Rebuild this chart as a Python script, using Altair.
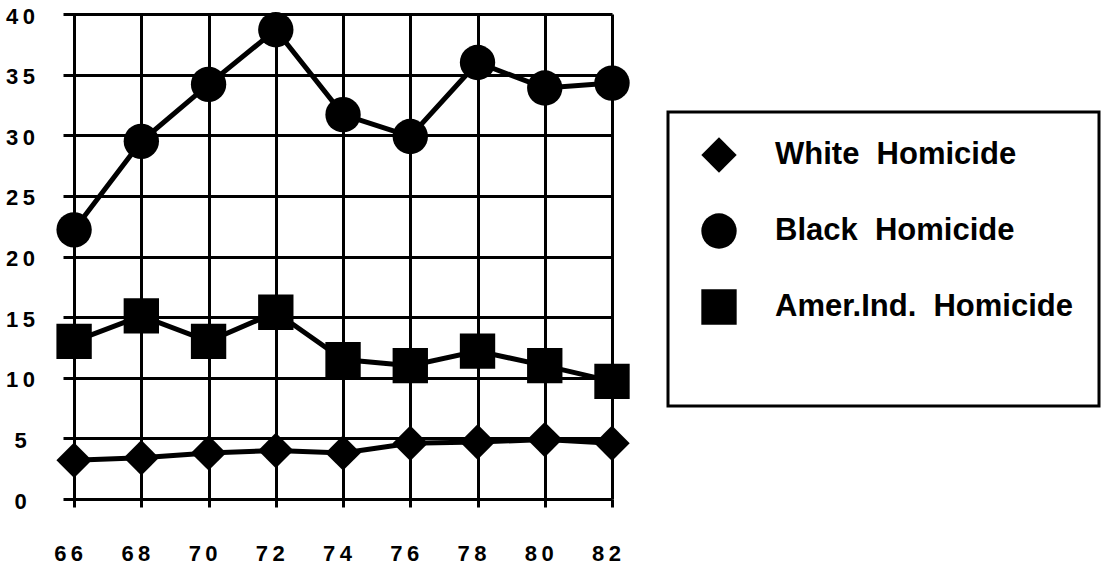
import altair as alt
import pandas as pd

# Homicide rates per 100,000 by year (19xx)
years = [66, 68, 70, 72, 74, 76, 78, 80, 82]
white = [3.2, 3.4, 3.8, 4.0, 3.8, 4.6, 4.7, 4.9, 4.6]
black = [22.2, 29.5, 34.2, 38.7, 31.7, 29.9, 36.0, 33.9, 34.3]
amer_ind = [13.0, 15.1, 13.0, 15.4, 11.5, 11.0, 12.2, 11.0, 9.7]

series_names = ["White\u00a0 Homicide", "Black\u00a0 Homicide", "Amer.Ind.\u00a0 Homicide"]
series_values = [white, black, amer_ind]
y_ticks = [0, 5, 10, 15, 20, 25, 30, 35, 40]

rows = []
for name, vals in zip(series_names, series_values):
    for yr, v in zip(years, vals):
        rows.append({"year": yr, "rate": v, "series": name})
df = pd.DataFrame(rows)

FONT = "Liberation Sans"
spaced = "join(split(datum.label, ''), '\u2009')"

x_enc = alt.X(
    "year:Q",
    scale=alt.Scale(domain=[65.67, 82], nice=False, zero=False),
    axis=alt.Axis(
        values=years, title=None, domain=False, grid=True,
        gridColor="black", gridWidth=3, gridOpacity=1,
        ticks=True, tickSize=8, tickWidth=3, tickColor="black",
        labelFont=FONT, labelFontSize=22, labelFontWeight="bold", labelColor="black",
        labelPadding=46, labelBaseline="middle", labelOffset=-6,
        labelFlush=False, labelOverlap=False,
        labelExpr=spaced,
    ),
)
y_enc = alt.Y(
    "rate:Q",
    scale=alt.Scale(domain=[0, 40], nice=False),
    axis=alt.Axis(
        values=y_ticks, title=None, domain=False, grid=True,
        gridColor="black", gridWidth=3, gridOpacity=1,
        ticks=False, tickSize=0,
        labelFont=FONT, labelFontSize=22, labelFontWeight="bold", labelColor="black",
        labelAlign="center", labelBaseline="middle", labelPadding=43, labelOffset=2,
        labelFlush=False, labelOverlap=False,
        labelExpr=spaced,
    ),
)

base = alt.Chart(df).encode(x=x_enc, y=y_enc)

lines = base.mark_line(color="black", strokeWidth=5).encode(detail="series:N")

points = base.mark_point(filled=True, color="black", opacity=1, size=1250).encode(
    shape=alt.Shape(
        "series:N",
        scale=alt.Scale(domain=series_names, range=["diamond", "circle", "square"]),
        legend=alt.Legend(
            orient="none", legendX=605, legendY=98,
            title="\u00a0", titleOrient="bottom", titleFontSize=30, titlePadding=26,
            titleFont=FONT,
            labelFont=FONT, labelFontSize=31, labelFontWeight="bold", labelColor="black",
            labelOffset=38, labelLimit=420, rowPadding=40, padding=25,
            strokeColor="black", symbolSize=1250,
            symbolFillColor="black", symbolStrokeColor="black", symbolStrokeWidth=0,
            symbolOffset=8,
        ),
    ),
)

chart = (
    alt.layer(lines, points)
    .properties(
        width=549,
        height=485,
        autosize="none",
        padding={"left": 63, "top": 14, "right": 491, "bottom": 76},
        background="white",
    )
    .configure_view(stroke=None)
    .configure_legend(strokeWidth=3)
)

chart.save("out.html", embed_options={"renderer": "svg", "actions": False})
